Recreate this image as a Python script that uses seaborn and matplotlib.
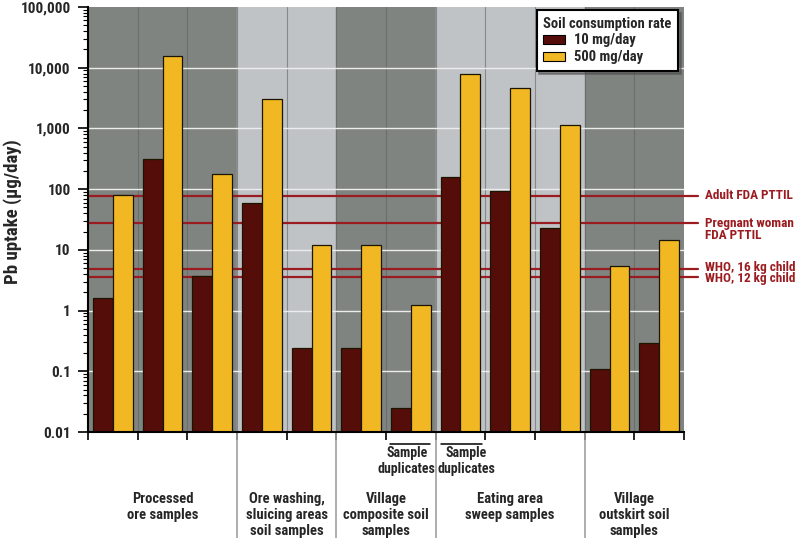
import pandas as pd
import seaborn as sns
import matplotlib.pyplot as plt
from matplotlib.patches import Patch
from matplotlib.ticker import FuncFormatter, LogLocator
import matplotlib.transforms as mtransforms

# one pair of bars per sample
samples = ['S1', 'S2', 'S3', 'S4', 'S5', 'S6', 'S7', 'S8', 'S9', 'S10', 'S11', 'S12']
uptake_10 = [1.6, 310, 3.7, 60, 0.24, 0.245, 0.025, 160, 94, 22.5, 0.11, 0.29]
uptake_500 = [80, 15500, 180, 3000, 12, 12, 1.25, 8000, 4600, 1130, 5.5, 14.5]
rate_names = ['10 mg/day', '500 mg/day']

groups = ['Processed\nore samples', 'Ore washing,\nsluicing areas\nsoil samples',
          'Village\ncomposite soil\nsamples', 'Eating area\nsweep samples',
          'Village\noutskirt soil\nsamples']
group_sizes = [3, 2, 2, 3, 2]

ref_values = [78, 28, 4.8, 3.6]
ref_labels = ['Adult FDA PTTIL', 'Pregnant woman\nFDA PTTIL', 'WHO, 16 kg child', 'WHO, 12 kg child']

duplicate_cols = [6, 7]

dark_red = '#550d0a'
yellow = '#f1b824'
line_red = '#9b1c20'
bg_dark = '#7f8481'
bg_light = '#c0c3c6'

df = pd.DataFrame({
    'sample': samples * 2,
    'uptake': uptake_10 + uptake_500,
    'rate': [rate_names[0]] * len(samples) + [rate_names[1]] * len(samples),
})

sns.set_style('white')
plt.rcParams['font.family'] = ['Roboto Condensed', 'Saira SemiCondensed', 'Liberation Sans Narrow', 'DejaVu Sans']
plt.rcParams['font.weight'] = 'bold'

fig = plt.figure(figsize=(8, 5.38), dpi=100)
ax = fig.add_axes([0.11, 0.197, 0.745, 0.79])

sns.barplot(data=df, x='sample', y='uptake', hue='rate', order=samples,
            palette=[dark_red, yellow], saturation=1, width=0.8,
            edgecolor='#1a1400', linewidth=0.9, legend=False, ax=ax, zorder=4)
ax.set_yscale('log')

ax.set_xlim(-0.5, len(samples) - 0.5)
ax.set_ylim(0.01, 100000)

# group background bands
start = 0
for i, n in enumerate(group_sizes):
    ax.axvspan(start - 0.5, start + n - 0.5, color=bg_dark if i % 2 == 0 else bg_light, zorder=0)
    start += n
for k in range(len(samples) - 1):
    ax.axvline(k + 0.5, color='#5f6362', lw=0.8, alpha=0.6, zorder=1)

for v in [0.1, 1, 10, 100, 1000, 10000]:
    ax.axhline(v, color='#ececec', lw=1, zorder=1)

# reference lines, labels outside the right edge
trans = mtransforms.blended_transform_factory(ax.transAxes, ax.transData)
label_shift = [0, -5, 1.5, -1.5]
for v, lab, dy in zip(ref_values, ref_labels, label_shift):
    ax.plot([0, 1.024], [v, v], color=line_red, lw=1.6, transform=trans, clip_on=False, zorder=2)
    ax.text(1.035, v, lab, color=line_red, fontsize=9.5, fontweight='bold',
            va='center', ha='left', linespacing=0.95,
            transform=trans + mtransforms.ScaledTranslation(0, dy / 72, fig.dpi_scale_trans))

# axes and ticks
for s in ['top', 'right']:
    ax.spines[s].set_visible(False)
for s in ['left', 'bottom']:
    ax.spines[s].set_color('black')
    ax.spines[s].set_linewidth(1.5)
    ax.spines[s].set_zorder(6)

ax.set_xticks([k - 0.5 for k in range(len(samples) + 1)])
ax.set_xticklabels([])
ax.tick_params(axis='x', which='major', direction='out', length=6, width=1.2, color='black', bottom=True)
ax.set_xlabel('')

ax.yaxis.set_major_locator(LogLocator(base=10, numticks=10))
ax.yaxis.set_minor_locator(LogLocator(base=10, subs=range(2, 10), numticks=20))
ax.yaxis.set_major_formatter(FuncFormatter(lambda v, p: f'{v:,.0f}' if v >= 1 else f'{v:g}'))
ax.tick_params(axis='y', which='major', direction='out', length=7.5, width=1.2, color='black',
               left=True, labelsize=11, pad=5)
ax.tick_params(axis='y', which='minor', direction='out', length=3.5, width=0.8, color='black', left=True)
for lab in ax.get_yticklabels():
    lab.set_fontweight('bold')
ax.set_ylabel('Pb uptake (µg/day)', fontsize=13.5, fontweight='bold')
ax.yaxis.set_label_coords(-0.11, 0.518)

# group separators and labels below the axis
xtrans = mtransforms.blended_transform_factory(ax.transData, ax.transAxes)
start = 0
for i, n in enumerate(group_sizes):
    if i > 0:
        ax.plot([start - 0.5, start - 0.5], [0, -0.26], color='#a0a0a0', lw=1.2,
                transform=xtrans, clip_on=False)
    ax.text(start + (n - 1) / 2, -0.14, groups[i], transform=xtrans, ha='center', va='top',
            fontsize=10.5, fontweight='bold', linespacing=1.2)
    start += n

dup_line = [(-0.42, 0.38), (-0.39, 0.43)]
dup_text = [-0.08, 0.11]
for c, (a, b), tx in zip(duplicate_cols, dup_line, dup_text):
    ax.plot([c + a, c + b], [-0.028, -0.028], color='black', lw=1.1,
            transform=xtrans, clip_on=False)
    ax.text(c + tx, -0.034, 'Sample\nduplicates', transform=xtrans, ha='center', va='top',
            fontsize=10, fontweight='bold', linespacing=1.15)

handles = [Patch(facecolor=dark_red, edgecolor='black', lw=0.8, label=rate_names[0]),
           Patch(facecolor=yellow, edgecolor='black', lw=0.8, label=rate_names[1])]
leg = ax.legend(handles=handles, title='Soil consumption rate', loc='upper right',
                bbox_to_anchor=(0.99, 0.993), frameon=True, fancybox=False, shadow=True,
                fontsize=10.5, title_fontsize=10.5, handlelength=1.5, handleheight=0.6,
                borderpad=0.45, labelspacing=0.2, handletextpad=0.6, borderaxespad=0)
leg.get_title().set_fontweight('bold')
leg.get_frame().set_edgecolor('black')
leg.get_frame().set_linewidth(1.5)
leg._legend_box.align = 'left'
leg.set_zorder(10)

fig.savefig('out.png', dpi=100)
